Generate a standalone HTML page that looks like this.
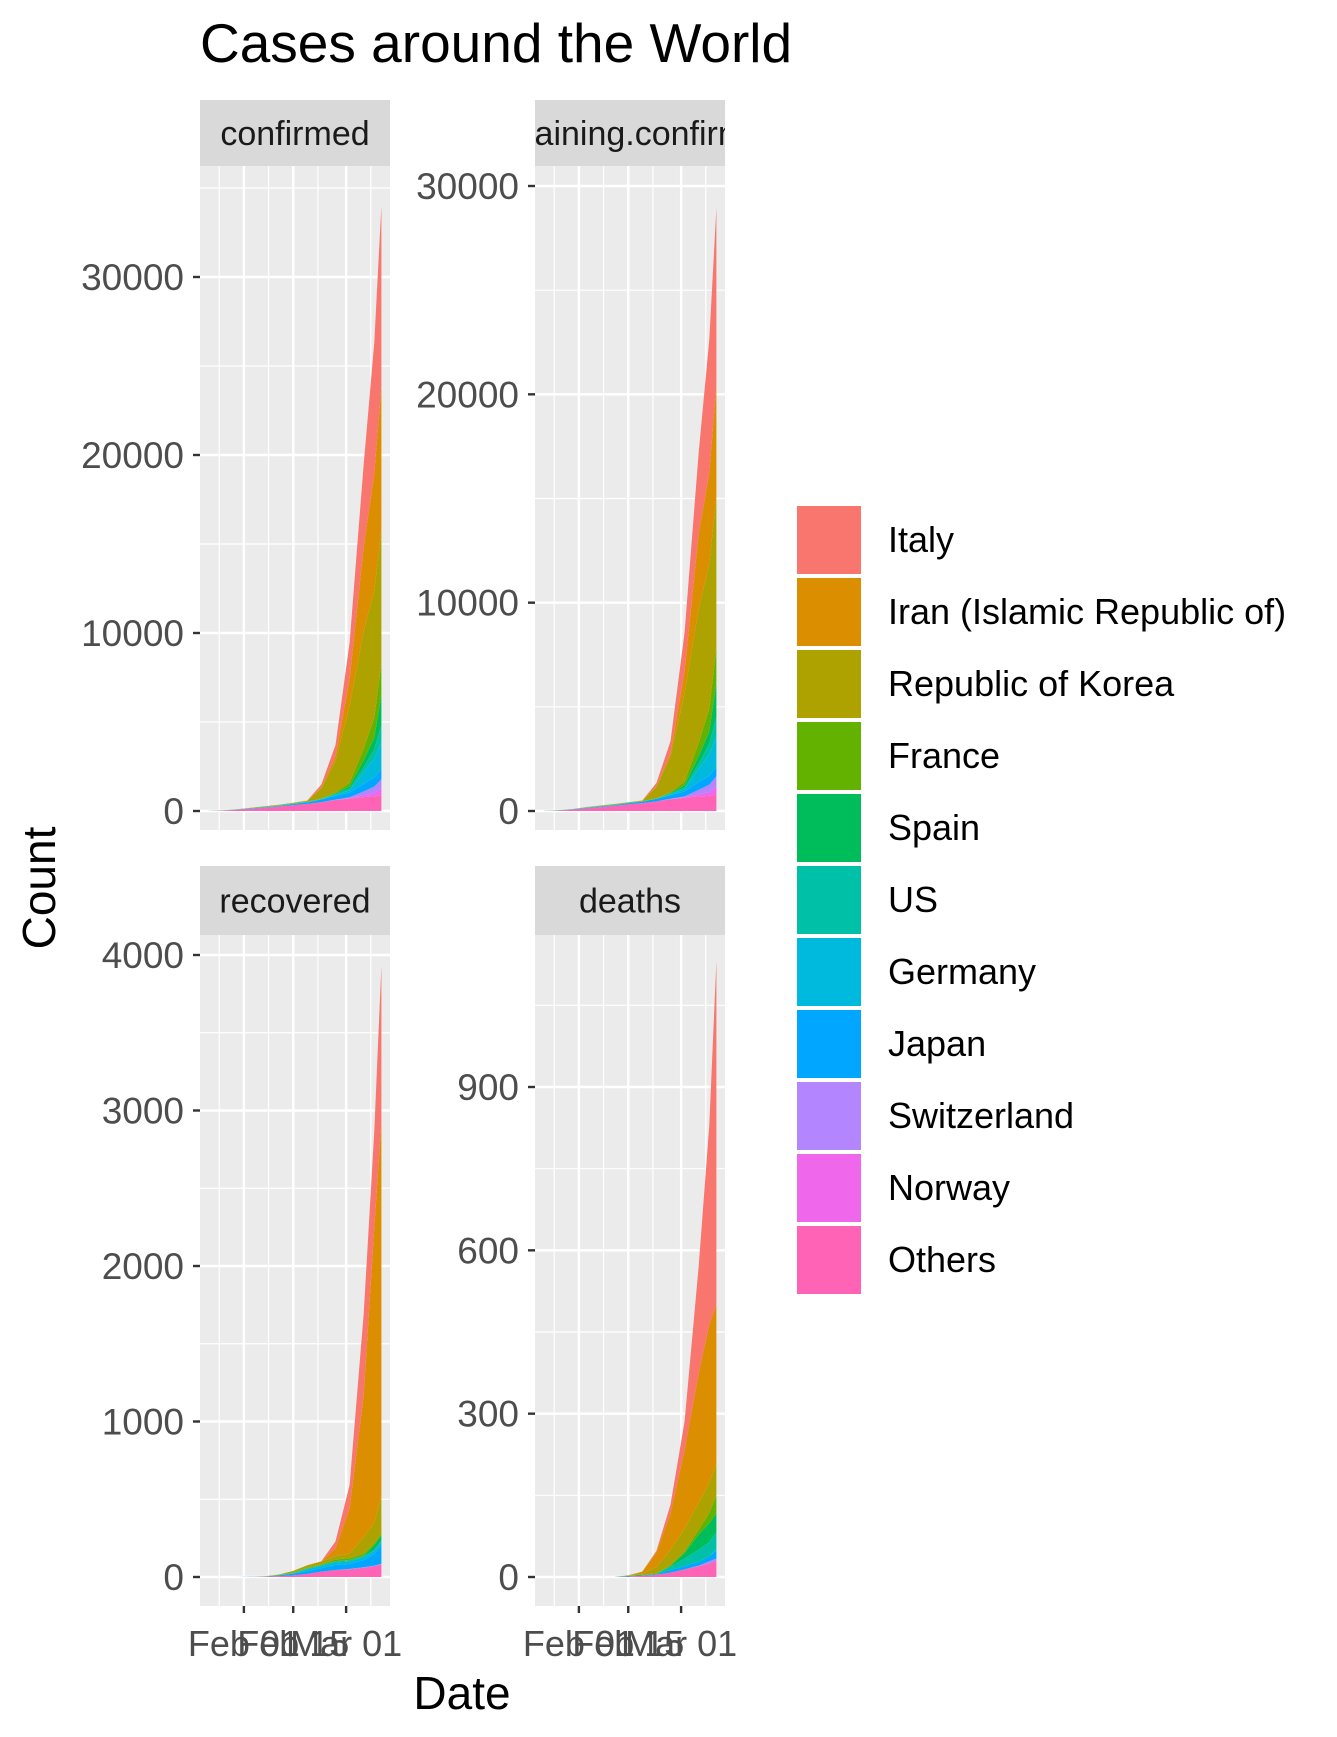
<!DOCTYPE html>
<html><head><meta charset="utf-8"><style>
body{margin:0;background:#fff}
svg{display:block;font-family:"Liberation Sans",Arial,sans-serif}
</style></head><body>
<svg id="chart" width="1337" height="1737" viewBox="0 0 1337 1737">
<rect width="1337" height="1737" fill="#fff"/>
<text x="200" y="62" font-size="55" fill="#000">Cases around the World</text>
<text x="462" y="1709" font-size="46" text-anchor="middle" fill="#000">Date</text>
<text transform="translate(55,888) rotate(-90)" font-size="46" text-anchor="middle" fill="#000">Count</text>
<g id="panels"></g>
<g id="legend"></g>
</svg>
<script>
const countries = ["Italy","Iran (Islamic Republic of)","Republic of Korea","France","Spain","US","Germany","Japan","Switzerland","Norway","Others"];
const colors = ["#F8766D","#DB8E00","#AEA200","#64B200","#00BD5C","#00C1A7","#00BADE","#00A6FF","#B385FF","#EF67EB","#FF63B6"];
const dayOffsets = [0,4,8,12,16,20,24,28,32,36,40,44,47,49]; // days since Jan 22
const xTickDays = [10,24,39];
const xTickLabels = ["Feb 01","Feb 15","Mar 01"];
const xMinorDays = [3,17,31,46];

const confirmed = [
 [0,0,2,2,3,3,3,3,155,655,2036,4636,7375,10149],
 [0,0,0,0,0,0,0,5,43,245,1501,4747,6566,8042],
 [1,3,4,15,24,28,28,51,602,1766,4335,6593,7134,7513],
 [0,3,5,6,11,11,12,12,12,57,191,653,1126,1784],
 [0,0,0,1,1,2,2,2,2,25,120,400,673,1695],
 [1,5,6,11,12,13,15,15,15,60,100,260,540,1000],
 [0,0,5,12,13,16,16,16,16,46,130,670,1040,1457],
 [2,4,11,20,25,28,59,85,147,214,274,420,511,581],
 [0,0,0,0,0,0,0,0,0,15,42,214,374,491],
 [0,0,0,0,0,0,0,0,0,6,25,108,176,400],
 [0,20,60,120,180,250,330,400,500,620,700,780,820,900]
];
const recovered = [
 [0,0,0,0,0,0,0,0,1,45,149,523,622,1004],
 [0,0,0,0,0,0,0,0,0,49,291,913,1900,2400],
 [0,0,0,0,2,3,9,16,18,22,30,108,130,247],
 [0,0,0,0,0,2,4,4,4,11,12,12,12,12],
 [0,0,0,0,0,0,0,2,2,2,2,2,30,32],
 [0,0,0,0,0,1,3,3,5,7,7,8,8,8],
 [0,0,0,0,0,0,1,12,14,16,16,18,18,25],
 [0,0,0,1,1,4,12,18,22,32,32,46,76,118],
 [0,0,0,0,0,0,0,0,0,0,2,3,3,4],
 [0,0,0,0,0,0,0,0,0,0,0,0,0,1],
 [0,0,0,0,2,6,10,20,35,45,50,60,70,80]
];
const deaths = [
 [0,0,0,0,0,0,0,0,3,17,52,197,366,631],
 [0,0,0,0,0,0,0,4,26,66,145,237,291,291],
 [0,0,0,0,0,0,0,2,12,28,42,50,55,60],
 [0,0,0,0,0,0,1,1,1,2,3,9,19,33],
 [0,0,0,0,0,0,0,0,0,1,10,28,35,35],
 [0,0,0,0,0,0,0,0,1,6,14,22,26,31],
 [0,0,0,0,0,0,0,0,0,0,0,0,0,2],
 [0,0,0,0,0,0,1,1,1,5,6,7,9,15],
 [0,0,0,0,0,0,0,0,0,0,0,1,4,4],
 [0,0,0,0,0,0,0,0,0,0,0,0,0,0],
 [0,0,0,0,0,0,1,2,4,8,14,20,25,30]
];
const remaining = confirmed.map((r,i)=>r.map((v,j)=>Math.max(0,v-recovered[i][j]-deaths[i][j])));

const ticksConf = [0,10000,20000,30000];
const ticksRem = [0,10000,20000,30000];
const ticksRec = [0,1000,2000,3000,4000];
const ticksDeath = [0,300,600,900];

const NS="http://www.w3.org/2000/svg";
function mk(tag,attrs,parent){const e=document.createElementNS(NS,tag);for(const k in attrs)e.setAttribute(k,attrs[k]);parent.appendChild(e);return e;}

const panels=[
 {name:"confirmed",data:confirmed,ticks:ticksConf,x:200,top:166,bot:830,strip:100,y0:811,yv:30000,y1:277},
 {name:"remaining.confirmed",data:remaining,ticks:ticksRem,x:535,top:166,bot:830,strip:100,y0:811,yv:30000,y1:186},
 {name:"recovered",data:recovered,ticks:ticksRec,x:200,top:935,bot:1606,strip:866,y0:1577,yv:4000,y1:955},
 {name:"deaths",data:deaths,ticks:ticksDeath,x:535,top:935,bot:1606,strip:866,y0:1577,yv:900,y1:1087}
];
const W=190;
const root=document.getElementById('panels');
panels.forEach((p,pi)=>{
 const g=mk('g',{},root);
 
 
 const xs=d=>p.x+(d+2.45)*(W/53.9);
 const ys=v=>p.y0+(p.y1-p.y0)*v/p.yv;
 const st=mk('rect',{x:p.x,y:p.strip,width:W,height:p.top-p.strip,fill:"#D9D9D9"},g);
 
 
 const cp=mk('clipPath',{id:'cp'+pi},g);mk('rect',{x:p.x,y:p.strip,width:W,height:p.top-p.strip},cp);
 const stt=mk('text',{x:p.x+W/2,y:(p.strip+p.top)/2+12,"font-size":"34","text-anchor":"middle",fill:"#1A1A1A","clip-path":"url(#cp"+pi+")"},g);
 stt.textContent=p.name;
 
 
 const bg=mk('rect',{x:p.x,y:p.top,width:W,height:p.bot-p.top,fill:"#EBEBEB"},g);
 
 
 const step=p.ticks[1]-p.ticks[0];
 for(let v=-step/2; ; v+=step){const y=ys(v);if(y<p.top)break;if(y<=p.bot)mk('line',{x1:p.x,x2:p.x+W,y1:y,y2:y,stroke:"#fff","stroke-width":1.2},g);}
 xMinorDays.forEach(d=>mk('line',{x1:xs(d),x2:xs(d),y1:p.top,y2:p.bot,stroke:"#fff","stroke-width":1.2},g));
 p.ticks.forEach(v=>{const y=ys(v);mk('line',{x1:p.x,x2:p.x+W,y1:y,y2:y,stroke:"#fff","stroke-width":2.4},g);
  mk('line',{x1:p.x-7,x2:p.x,y1:y,y2:y,stroke:"#333","stroke-width":2.4},g);
  const t=mk('text',{x:p.x-16,y:y+13,"font-size":"37","text-anchor":"end",fill:"#4D4D4D"},g);t.textContent=v;
  
  });
 xTickDays.forEach(d=>mk('line',{x1:xs(d),x2:xs(d),y1:p.top,y2:p.bot,stroke:"#fff","stroke-width":2.4},g));
 const n=countries.length;let base=dayOffsets.map(()=>0);
 for(let i=n-1;i>=0;i--){
  const topv=base.map((b,j)=>b+p.data[i][j]);
  let dstr=dayOffsets.map((d,j)=>(j?'L':'M')+xs(d).toFixed(1)+','+ys(topv[j]).toFixed(1)).join('');
  for(let j=dayOffsets.length-1;j>=0;j--)dstr+='L'+xs(dayOffsets[j]).toFixed(1)+','+ys(base[j]).toFixed(1);
  const a=mk('path',{d:dstr+'Z',fill:colors[i]},g);
  
  
  base=topv;
 }
 if(pi>=2){
  xTickDays.forEach((d,k)=>{mk('line',{x1:xs(d),x2:xs(d),y1:p.bot,y2:p.bot+7,stroke:"#333","stroke-width":2.4},g);
   const t=mk('text',{x:xs(d),y:p.bot+50,"font-size":"36","text-anchor":"middle",fill:"#4D4D4D"},g);t.textContent=xTickLabels[k];
   
   });
 }
});
const lg=document.getElementById('legend');
countries.forEach((c,i)=>{
 const y=505+i*72;
 const r=mk('rect',{x:796,y:y,width:66,height:70,fill:colors[i],stroke:"#fff","stroke-width":2},lg);
 
 
 const t=mk('text',{x:888,y:y+47,"font-size":"36",fill:"#000"},lg);t.textContent=c;
 
 
});
</script>
</body></html>
